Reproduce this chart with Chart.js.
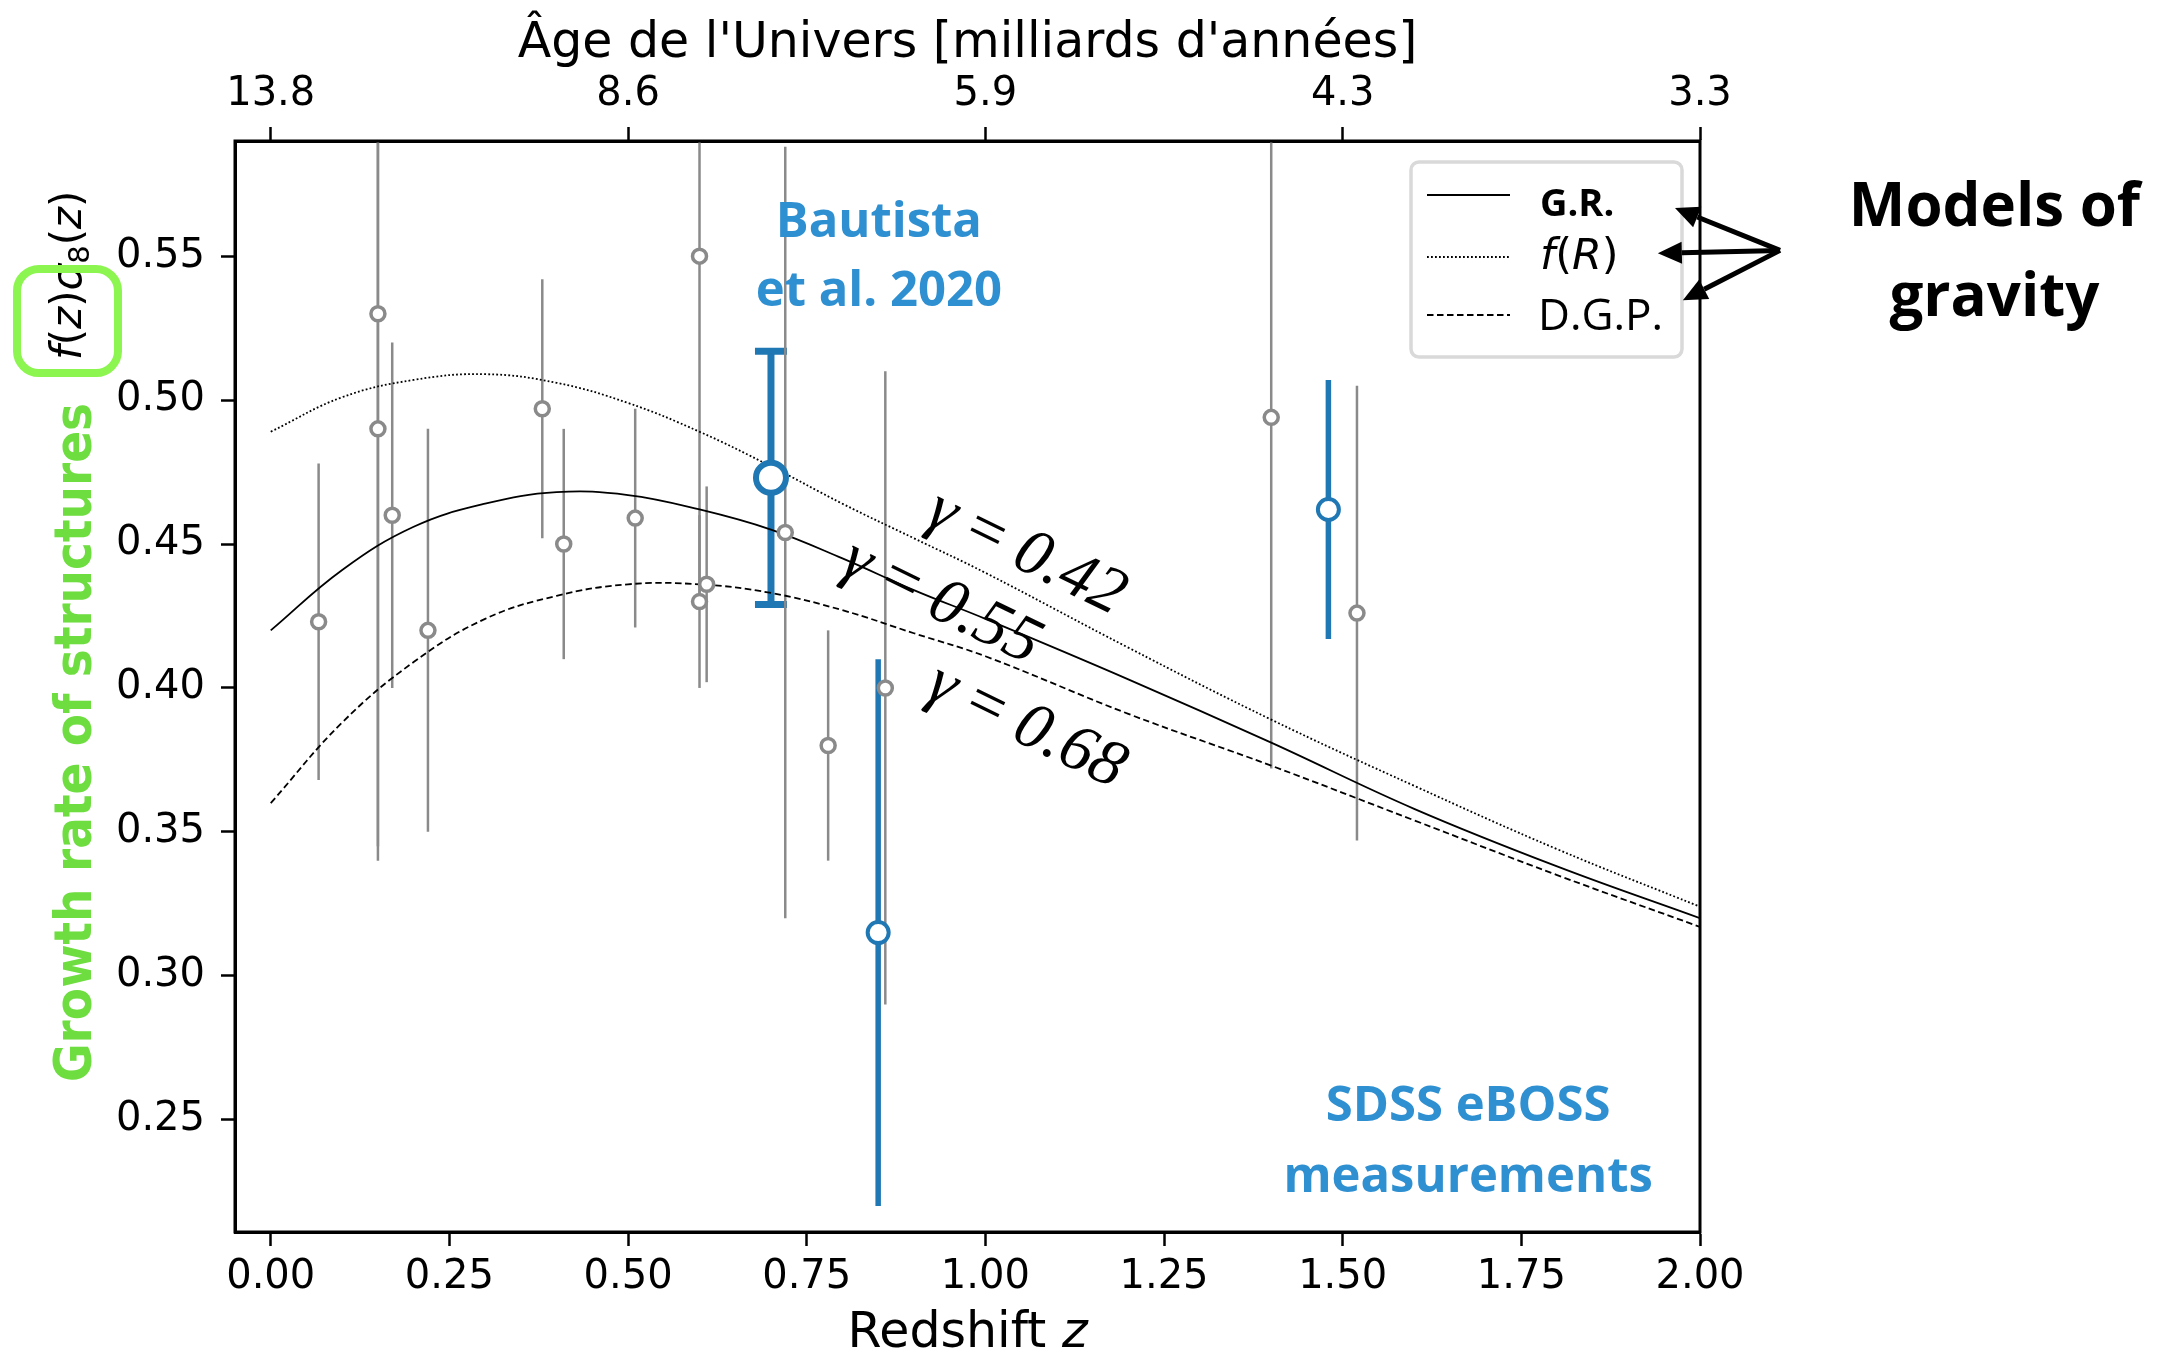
<!DOCTYPE html>
<html>
<head>
<meta charset="utf-8">
<script src="https://cdn.jsdelivr.net/npm/chart.js@4.4.1/dist/chart.umd.min.js"></script>
<style>
  html, body { margin: 0; padding: 0; background: #fff; }
  canvas { display: block; }
</style>
</head>
<body>
<canvas id="growth_chart" width="2181" height="1359"></canvas>
<script>
// model curves
const zModel = [0, 0.1, 0.2, 0.3, 0.4, 0.5, 0.6, 0.7, 0.8, 0.9, 1.0, 1.2, 1.4, 1.6, 1.8, 2.0];
const grCurve = [0.420, 0.441, 0.456, 0.464, 0.468, 0.467, 0.462, 0.455, 0.445, 0.434, 0.424, 0.403, 0.381, 0.358, 0.338, 0.320];
const fRCurve = [0.489, 0.501, 0.507, 0.509, 0.506, 0.499, 0.489, 0.477, 0.464, 0.452, 0.440, 0.414, 0.389, 0.366, 0.344, 0.324];
const dgpCurve = [0.360, 0.388, 0.409, 0.424, 0.432, 0.436, 0.436, 0.433, 0.427, 0.419, 0.411, 0.391, 0.373, 0.354, 0.335, 0.317];
const gammaValues = ['0.42', '0.55', '0.68'];

// other surveys (grey)
const zOther = [0.067, 0.15, 0.15, 0.17, 0.22, 0.38, 0.41, 0.51, 0.60, 0.60, 0.61, 0.72, 0.78, 0.86, 1.40, 1.52];
const fsOther = [0.423, 0.530, 0.490, 0.460, 0.420, 0.497, 0.450, 0.459, 0.550, 0.430, 0.436, 0.454, 0.380, 0.400, 0.494, 0.426];
const errOther = [0.055, 0.190, 0.145, 0.060, 0.070, 0.045, 0.040, 0.038, 0.120, 0.030, 0.034, 0.134, 0.040, 0.110, 0.122, 0.079];

// Bautista et al. 2020
const zBautista = [0.70];
const fsBautista = [0.473];
const errBautista = [0.044];

// other eBOSS measurements
const zEboss = [0.85, 1.48];
const fsEboss = [0.315, 0.462];
const errEboss = [0.095, 0.045];

// axes
const zTicks = [0, 0.25, 0.5, 0.75, 1.0, 1.25, 1.5, 1.75, 2.0];
const yTicks = [0.25, 0.30, 0.35, 0.40, 0.45, 0.50, 0.55];
const ageZ = [0, 0.5, 1.0, 1.5, 2.0];
const ageLabels = ['13.8', '8.6', '5.9', '4.3', '3.3'];

const toPoints = (xs, ys) => xs.map((x, i) => ({ x: x, y: ys[i] }));

const GREY = '#8a8a8a';
const BLUE = '#1f77b4';
const TEXT_BLUE = '#2e8fd1';
const GREEN = '#6ddd3f';

// vertical error bars under the markers
const errorBars = {
    id: 'errorBars',
    beforeDatasetsDraw(chart) {
        const ctx = chart.ctx;
        const a = chart.chartArea;
        const xs = chart.scales.x, ys = chart.scales.y;
        ctx.save();
        ctx.beginPath();
        ctx.rect(a.left, a.top, a.width, a.height);
        ctx.clip();
        chart.data.datasets.forEach(ds => {
            if (!ds.errors) return;
            ctx.strokeStyle = ds.borderColor;
            ctx.lineWidth = ds.errWidth;
            ds.data.forEach((p, i) => {
                const px = xs.getPixelForValue(p.x);
                const top = ys.getPixelForValue(p.y + ds.errors[i]);
                const bot = ys.getPixelForValue(p.y - ds.errors[i]);
                ctx.beginPath();
                ctx.moveTo(px, top);
                ctx.lineTo(px, bot);
                ctx.stroke();
                if (ds.capSize) {
                    ctx.beginPath();
                    ctx.moveTo(px - ds.capSize, top); ctx.lineTo(px + ds.capSize, top);
                    ctx.moveTo(px - ds.capSize, bot); ctx.lineTo(px + ds.capSize, bot);
                    ctx.stroke();
                }
            });
        });
        ctx.restore();
    }
};

function drawArrow(ctx, x0, y0, x1, y1) {
    const ang = Math.atan2(y1 - y0, x1 - x0);
    const head = 24, half = 11;
    const bx = x1 - head * Math.cos(ang), by = y1 - head * Math.sin(ang);
    ctx.beginPath();
    ctx.moveTo(x0, y0);
    ctx.lineTo(bx, by);
    ctx.stroke();
    ctx.beginPath();
    ctx.moveTo(x1, y1);
    ctx.lineTo(bx + half * Math.sin(ang), by - half * Math.cos(ang));
    ctx.lineTo(bx - half * Math.sin(ang), by + half * Math.cos(ang));
    ctx.closePath();
    ctx.fill();
}

// draws pieces [text, font, dy] one after another from x, returns end x
function drawRun(ctx, parts, x, y) {
    parts.forEach(p => {
        ctx.font = p[1];
        ctx.fillText(p[0], x, y + (p[2] || 0));
        x += ctx.measureText(p[0]).width;
    });
    return x;
}
function runWidth(ctx, parts) {
    let w = 0;
    parts.forEach(p => { ctx.font = p[1]; w += ctx.measureText(p[0]).width; });
    return w;
}

const decorations = {
    id: 'decorations',
    afterDraw(chart) {
        const ctx = chart.ctx;
        const a = chart.chartArea;
        const xs = chart.scales.x, ys = chart.scales.y;
        const X = v => xs.getPixelForValue(v);
        const Y = v => ys.getPixelForValue(v);
        ctx.save();

        // frame
        ctx.strokeStyle = '#000';
        ctx.lineWidth = 3;
        ctx.strokeRect(a.left, a.top, a.width, a.height);

        // axis titles
        ctx.fillStyle = '#000';
        ctx.textAlign = 'left';
        ctx.textBaseline = 'alphabetic';
        const topTitle = [["Âge de l'Univers [milliards d'années]", '49px "DejaVu Sans"']];
        drawRun(ctx, topTitle, (a.left + a.right) / 2 - runWidth(ctx, topTitle) / 2, 57);
        const botTitle = [['Redshift ', '49px "DejaVu Sans"'], ['z', 'oblique 49px "DejaVu Sans"']];
        drawRun(ctx, botTitle, (a.left + a.right) / 2 - runWidth(ctx, botTitle) / 2, 1347);

        // y title, rotated
        const greenFamily = '"Liberation Sans Narrow", "DejaVu Sans Condensed", sans-serif';
        ctx.save();
        ctx.translate(91, 1082);
        ctx.rotate(-Math.PI / 2);
        ctx.font = 'bold 60px ' + greenFamily;
        const gSize = 60 * 679 / ctx.measureText('Growth rate of structures').width;
        ctx.fillStyle = GREEN;
        drawRun(ctx, [['Growth rate of structures', 'bold ' + gSize.toFixed(1) + 'px ' + greenFamily]], 0, 0);
        ctx.restore();
        ctx.save();
        ctx.translate(81, 1082);
        ctx.rotate(-Math.PI / 2);
        ctx.fillStyle = '#000';
        drawRun(ctx, [
            ['f', 'oblique 42px "DejaVu Sans"'],
            ['(', '42px "DejaVu Sans"'],
            ['z', 'oblique 42px "DejaVu Sans"'],
            [')', '42px "DejaVu Sans"'],
            ['σ', 'oblique 42px "DejaVu Sans"'],
            ['8', '29px "DejaVu Sans"', 8],
            ['(', '42px "DejaVu Sans"'],
            ['z', 'oblique 42px "DejaVu Sans"'],
            [')', '42px "DejaVu Sans"']
        ], 722, 0);
        ctx.restore();

        // green box round f(z)
        ctx.strokeStyle = '#8cf54f';
        ctx.lineWidth = 8;
        ctx.beginPath();
        ctx.roundRect(17, 269, 101, 104, 22);
        ctx.stroke();

        // gamma labels along the curves
        ctx.fillStyle = '#000';
        const gammaPos = [[1.057, 0.4467], [0.938, 0.4296], [1.057, 0.3865]];
        gammaValues.forEach((g, i) => {
            ctx.save();
            ctx.translate(X(gammaPos[i][0]), Y(gammaPos[i][1]));
            ctx.rotate(26 * Math.PI / 180);
            const parts = [['γ', 'italic 66px "Liberation Serif"'], [' = ', '66px "Liberation Serif"'], [g, 'italic 66px "Liberation Serif"']];
            ctx.textBaseline = 'middle';
            drawRun(ctx, parts, -runWidth(ctx, parts) / 2, 0);
            ctx.restore();
        });

        // blue annotations
        ctx.fillStyle = TEXT_BLUE;
        ctx.textAlign = 'center';
        ctx.textBaseline = 'middle';
        ctx.font = '700 49px "Open Sans"';
        ctx.fillText('Bautista', X(0.851), Y(0.5615));
        ctx.fillText('et al. 2020', X(0.851), Y(0.5375));
        ctx.fillText('SDSS eBOSS', X(1.6755), Y(0.2543));
        ctx.fillText('measurements', X(1.6755), Y(0.2297));

        // legend
        const lx = a.right - 289, ly = a.top + 21;
        ctx.fillStyle = 'rgba(255,255,255,0.85)';
        ctx.strokeStyle = '#d9d9d9';
        ctx.lineWidth = 3.5;
        ctx.beginPath();
        ctx.roundRect(lx, ly, 271, 195, 8);
        ctx.fill();
        ctx.stroke();
        const rows = [a.top + 54, a.top + 116, a.top + 174];
        const lineSets = chart.data.datasets.filter(ds => ds.legendRow !== undefined);
        lineSets.forEach(ds => {
            const ry = rows[ds.legendRow];
            ctx.strokeStyle = ds.borderColor;
            ctx.lineWidth = ds.borderWidth;
            ctx.setLineDash(ds.borderDash || []);
            ctx.beginPath();
            ctx.moveTo(a.right - 273, ry);
            ctx.lineTo(a.right - 190, ry);
            ctx.stroke();
        });
        ctx.setLineDash([]);
        ctx.fillStyle = '#000';
        ctx.textAlign = 'left';
        ctx.textBaseline = 'middle';
        drawRun(ctx, [['G.R.', '700 38px "Open Sans"']], a.right - 160, rows[0] + 10);
        drawRun(ctx, [['f', 'oblique 43px "DejaVu Sans"'], ['(', '43px "DejaVu Sans"'],
                      ['R', 'oblique 43px "DejaVu Sans"'], [')', '43px "DejaVu Sans"']], a.right - 160, rows[1] + 1);
        drawRun(ctx, [['D.G.P.', '44px "Open Sans"']], a.right - 162, rows[2] + 2);

        // "Models of gravity" with arrows
        ctx.strokeStyle = '#000';
        ctx.fillStyle = '#000';
        ctx.lineWidth = 5;
        const ox = X(2.112), oy = Y(0.552);
        drawArrow(ctx, ox, oy, X(1.965), Y(0.5667));
        drawArrow(ctx, ox, oy, X(1.941), Y(0.551));
        drawArrow(ctx, ox, oy, X(1.976), Y(0.5347));
        ctx.textAlign = 'center';
        ctx.font = '700 60px "Open Sans"';
        ctx.fillText('Models of', X(2.412), Y(0.5663));
        ctx.fillText('gravity', X(2.412), Y(0.535));

        ctx.restore();
    }
};

const tickFont = { family: 'DejaVu Sans', size: 40 };
const tickGrid = { drawOnChartArea: false, tickLength: 14, tickWidth: 2.5, tickColor: '#000' };
const axisBorder = { display: true, color: '#000', width: 3 };

const data = {
    datasets: [
        {
            label: 'Bautista et al. 2020',
            data: toPoints(zBautista, fsBautista),
            errors: errBautista, errWidth: 7, capSize: 16,
            borderColor: BLUE, backgroundColor: '#fff',
            pointRadius: 15, borderWidth: 6
        },
        {
            label: 'eBOSS',
            data: toPoints(zEboss, fsEboss),
            errors: errEboss, errWidth: 5.5,
            borderColor: BLUE, backgroundColor: '#fff',
            pointRadius: 10.5, borderWidth: 4
        },
        {
            label: 'Other surveys',
            data: toPoints(zOther, fsOther),
            errors: errOther, errWidth: 2.5,
            borderColor: GREY, backgroundColor: '#fff',
            pointRadius: 7, borderWidth: 3.5
        },
        {
            label: 'G.R.', legendRow: 0,
            data: toPoints(zModel, grCurve),
            showLine: true, pointRadius: 0, tension: 0.4,
            borderColor: '#000', borderWidth: 1.8
        },
        {
            label: 'f(R)', legendRow: 1,
            data: toPoints(zModel, fRCurve),
            showLine: true, pointRadius: 0, tension: 0.4,
            borderColor: '#000', borderWidth: 1.8, borderDash: [1.8, 2.2]
        },
        {
            label: 'D.G.P.', legendRow: 2,
            data: toPoints(zModel, dgpCurve),
            showLine: true, pointRadius: 0, tension: 0.4,
            borderColor: '#000', borderWidth: 1.8, borderDash: [6.5, 3.5]
        }
    ]
};

new Chart(document.getElementById('growth_chart'), {
    type: 'scatter',
    data: data,
    options: {
        responsive: false,
        animation: false,
        devicePixelRatio: 1,
        layout: { padding: { left: 0, top: 0, right: 481, bottom: 0 } },
        plugins: { legend: { display: false }, tooltip: { enabled: false } },
        scales: {
            x: {
                type: 'linear', position: 'bottom', min: -0.05, max: 2.0,
                afterBuildTicks: s => { s.ticks = zTicks.map(v => ({ value: v })); },
                afterFit: s => { s.height = 127; },
                ticks: { font: tickFont, color: '#000', padding: 8, autoSkip: false, maxRotation: 0,
                         callback: v => v.toFixed(2) },
                grid: tickGrid, border: axisBorder
            },
            x2: {
                type: 'linear', position: 'top', min: -0.05, max: 2.0,
                afterBuildTicks: s => { s.ticks = ageZ.map(v => ({ value: v })); },
                afterFit: s => { s.height = 141; },
                ticks: { font: tickFont, color: '#000', padding: 8, autoSkip: false, maxRotation: 0,
                         callback: (v, i) => ageLabels[i] },
                grid: tickGrid, border: axisBorder
            },
            y: {
                type: 'linear', position: 'left', min: 0.211, max: 0.590,
                afterBuildTicks: s => { s.ticks = yTicks.map(v => ({ value: v })); },
                afterFit: s => { s.width = 235; },
                ticks: { font: tickFont, color: '#000', padding: 16, autoSkip: false,
                         callback: v => v.toFixed(2) },
                grid: tickGrid, border: axisBorder
            }
        }
    },
    plugins: [errorBars, decorations]
});
</script>
</body>
</html>
